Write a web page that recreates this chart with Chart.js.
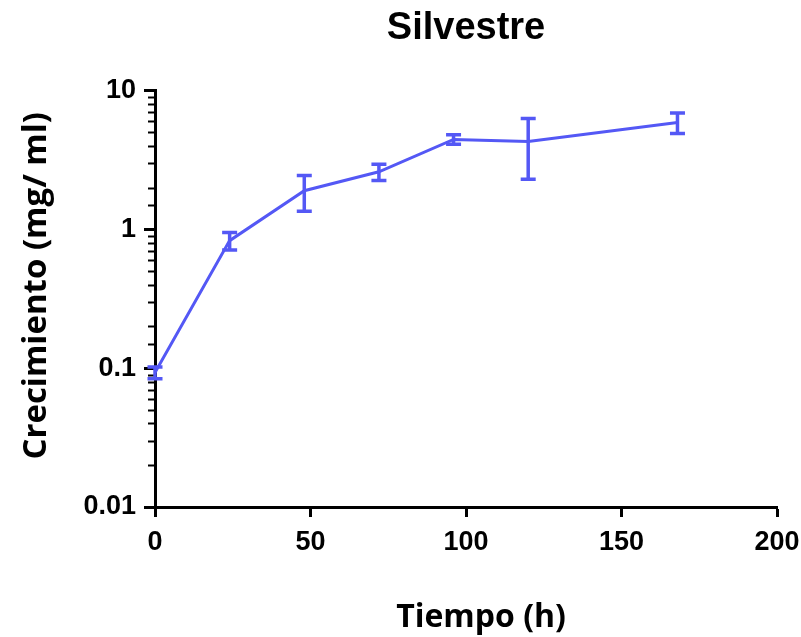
<!DOCTYPE html>
<html>
<head>
<meta charset="utf-8">
<script src="https://cdn.jsdelivr.net/npm/chart.js@4.4.1/dist/chart.umd.min.js"></script>
<style>
  body { margin: 0; background: #fff; }
</style>
</head>
<body>
<canvas id="growth_chart" width="801" height="637"></canvas>
<script>
"use strict";

// time points (h) and growth (mg/ml), mean and SD
const hours = [0, 24, 48, 72, 96, 120, 168];
const growth = [0.093, 0.83, 1.9, 2.6, 4.45, 4.3, 5.9];
const growthSd = [0.009, 0.12, 0.55, 0.35, 0.35, 2.0, 1.0];

const xTicks = [0, 50, 100, 150, 200];
const yLabels = [0.01, 0.1, 1, 10];

const xTitle = 'Tiempo (h)';
const yTitle = 'Crecimiento (mg/ ml)';

const lineColor = 'rgb(84, 88, 245)';

function isDecade(v) {
  const l = Math.log10(v);
  return Math.abs(l - Math.round(l)) < 1e-6;
}

/*-- error bars with caps --*/
const errorBars = {
  id: 'errorBars',
  afterDatasetsDraw(chart) {
    const ctx = chart.ctx, xs = chart.scales.x, ys = chart.scales.y;
    ctx.save();
    ctx.strokeStyle = lineColor;
    ctx.lineWidth = 3.5;
    ctx.lineCap = 'butt';
    hours.forEach(function (h, i) {
      const px = xs.getPixelForValue(h);
      const top = ys.getPixelForValue(growth[i] + growthSd[i]);
      const bot = ys.getPixelForValue(growth[i] - growthSd[i]);
      ctx.beginPath();
      ctx.moveTo(px, top);
      ctx.lineTo(px, bot);
      ctx.moveTo(px - 7.5, top);
      ctx.lineTo(px + 7.5, top);
      ctx.moveTo(px - 7.5, bot);
      ctx.lineTo(px + 7.5, bot);
      ctx.stroke();
    });
    ctx.restore();
  }
};

/*-- short minor ticks on the log axis --*/
const minorTicks = {
  id: 'minorTicks',
  beforeDatasetsDraw(chart) {
    const ctx = chart.ctx, ys = chart.scales.y;
    const left = chart.chartArea.left;
    ctx.save();
    ctx.strokeStyle = '#000';
    ctx.lineWidth = 2;
    ys.ticks.forEach(function (t) {
      if (isDecade(t.value)) return;
      const py = Math.round(ys.getPixelForValue(t.value)) + 0.5;
      ctx.beginPath();
      ctx.moveTo(left - 1, py);
      ctx.lineTo(left - 7, py);
      ctx.stroke();
    });
    ctx.restore();
  }
};

/*-- axis titles, placed a bit off centre like the original --*/
const axisTitles = {
  id: 'axisTitles',
  afterLayout(chart) {
    // centre the chart title over the plot area
    if (chart.titleBlock) {
      chart.titleBlock.left = chart.chartArea.left;
      chart.titleBlock.right = chart.chartArea.right;
    }
  },
  afterDraw(chart) {
    const ctx = chart.ctx, area = chart.chartArea;
    ctx.save();
    ctx.fillStyle = '#000';
    ctx.textAlign = 'center';
    ctx.textBaseline = 'alphabetic';
    ctx.font = 'bold 32px "Open Sans"';
    ctx.fillText(xTitle, (area.left + area.right) / 2 + 15, 627);
    ctx.translate(46, (area.top + area.bottom) / 2 - 13);
    ctx.rotate(-Math.PI / 2);
    ctx.font = 'bold 33px "Open Sans"';
    ctx.fillText(yTitle, 0, 0);
    ctx.restore();
  }
};

new Chart(document.getElementById('growth_chart').getContext('2d'), {
  type: 'line',
  data: {
    datasets: [{
      label: 'Silvestre',
      data: hours.map(function (h, i) { return { x: h, y: growth[i] }; }),
      borderColor: lineColor,
      backgroundColor: lineColor,
      borderWidth: 3,
      pointRadius: 0,
      tension: 0
    }]
  },
  options: {
    responsive: false,
    animation: false,
    layout: { padding: { top: 0, right: 0, bottom: 0, left: 0 } },
    plugins: {
      legend: { display: false },
      tooltip: { enabled: false },
      title: {
        display: true,
        text: 'Silvestre',
        color: '#000',
        font: { family: 'Liberation Sans', size: 38, weight: 'bold' },
        padding: { top: 6, bottom: 39 }
      }
    },
    scales: {
      x: {
        type: 'linear',
        min: 0,
        max: 200,
        afterBuildTicks: function (scale) {
          scale.ticks = xTicks.map(function (v) { return { value: v }; });
        },
        afterFit: function (scale) {
          scale.height = 130;
          scale.paddingLeft = 0;
          scale.paddingRight = 24;
        },
        border: { display: true, color: '#000', width: 3 },
        grid: { drawOnChartArea: false, drawTicks: true, tickLength: 10, tickWidth: 3, tickColor: '#000' },
        ticks: {
          color: '#000',
          padding: 9,
          maxRotation: 0,
          font: { family: 'Liberation Sans', size: 27, weight: 'bold' }
        }
      },
      y: {
        type: 'logarithmic',
        min: 0.01,
        max: 10,
        afterFit: function (scale) { scale.width = 155; },
        border: { display: true, color: '#000', width: 3 },
        grid: {
          drawOnChartArea: false,
          drawTicks: true,
          tickLength: 11,
          tickWidth: 3,
          tickColor: function (c) { return c.tick && isDecade(c.tick.value) ? '#000' : 'rgba(0,0,0,0)'; }
        },
        ticks: {
          autoSkip: false,
          color: '#000',
          padding: 8,
          font: { family: 'Liberation Sans', size: 27, weight: 'bold' },
          callback: function (v) { return yLabels.indexOf(v) >= 0 || isDecade(v) ? String(+v.toPrecision(3)) : ''; }
        }
      }
    }
  },
  plugins: [errorBars, minorTicks, axisTitles]
});
</script>
</body>
</html>
